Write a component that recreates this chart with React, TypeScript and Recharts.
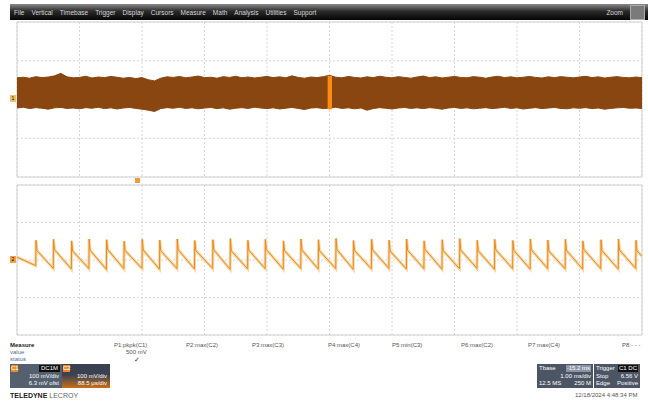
import { ComposedChart, Area, Line, XAxis, YAxis, CartesianGrid, ReferenceArea } from 'recharts';

// grid: 10 horizontal divisions, 8 vertical divisions per trace pane
const xTicks = [0, 1, 2, 3, 4, 5, 6, 7, 8, 9, 10];
const yTicks = [-4, -3, -2, -1, 0, 1, 2, 3, 4];

// C1: noisy band, envelope read every 0.1 div
const c1Top = [
  1.12, 1.15, 1.10, 1.18, 1.13, 1.16, 1.22, 1.35, 1.17, 1.12,
  1.14, 1.20, 1.11, 1.16, 1.13, 1.19, 1.15, 1.10, 1.14, 1.08,
  1.13, 1.02, 0.96, 1.10, 1.17, 1.14, 1.19, 1.12, 1.16, 1.21,
  1.13, 1.15, 1.10, 1.18, 1.14, 1.20, 1.12, 1.16, 1.11, 1.15,
  1.19, 1.13, 1.17, 1.12, 1.22, 1.14, 1.10, 1.16, 1.13, 1.18,
  1.25, 1.15, 1.12, 1.19, 1.14, 1.11, 1.17, 1.13, 1.20, 1.15,
  1.12, 1.18, 1.14, 1.10, 1.16, 1.21, 1.13, 1.17, 1.11, 1.15,
  1.19, 1.14, 1.12, 1.18, 1.15, 1.10, 1.16, 1.20, 1.13, 1.17,
  1.12, 1.15, 1.19, 1.14, 1.11, 1.17, 1.13, 1.18, 1.15, 1.12,
  1.16, 1.20, 1.13, 1.17, 1.11, 1.15, 1.18, 1.14, 1.12, 1.16,
  1.13,
];
const c1Bottom = [
  -0.44, -0.40, -0.47, -0.42, -0.45, -0.50, -0.43, -0.41, -0.46, -0.44,
  -0.48, -0.42, -0.45, -0.40, -0.47, -0.43, -0.49, -0.44, -0.41, -0.46,
  -0.50, -0.55, -0.62, -0.47, -0.42, -0.45, -0.40, -0.46, -0.43, -0.48,
  -0.44, -0.41, -0.47, -0.43, -0.50, -0.45, -0.42, -0.46, -0.40, -0.44,
  -0.47, -0.43, -0.49, -0.45, -0.41, -0.46, -0.52, -0.44, -0.42, -0.47,
  -0.45, -0.40, -0.46, -0.43, -0.48, -0.44, -0.55, -0.47, -0.42, -0.45,
  -0.49, -0.44, -0.41, -0.46, -0.43, -0.47, -0.42, -0.45, -0.50, -0.44,
  -0.41, -0.46, -0.43, -0.48, -0.45, -0.42, -0.47, -0.44, -0.40, -0.46,
  -0.43, -0.49, -0.45, -0.42, -0.47, -0.44, -0.41, -0.46, -0.48, -0.43,
  -0.45, -0.42, -0.47, -0.44, -0.50, -0.46, -0.43, -0.41, -0.45, -0.44,
  -0.46,
];
// bright burst in the middle of C1
const burstX = [4.97, 5.04];
const burstTop = [1.2, 1.2];
const burstBottom = [-0.48, -0.48];

// C2: sawtooth, one spike per cycle
const c2Spikes = [
  0.30, 0.58, 0.87, 1.15, 1.43, 1.71, 2.00, 2.28, 2.56, 2.84,
  3.13, 3.41, 3.69, 3.97, 4.26, 4.54, 4.82, 5.10, 5.38, 5.67,
  5.95, 6.23, 6.51, 6.80, 7.08, 7.36, 7.64, 7.93, 8.21, 8.49,
  8.77, 9.05, 9.34, 9.62, 9.90,
];
const c2Peaks = [
  1.05, 1.10, 1.02, 1.12, 1.08, 1.00, 1.10, 1.06, 1.12, 1.04,
  1.08, 1.14, 1.05, 1.10, 1.02, 1.12, 1.08, 1.15, 1.04, 1.10,
  1.06, 1.12, 1.02, 1.08, 1.14, 1.05, 1.10, 1.04, 1.12, 1.06,
  1.10, 1.02, 1.08, 1.12, 1.05,
];
const c2Knees = [
  0.50, 0.55, 0.48, 0.52, 0.56, 0.50, 0.53, 0.49, 0.55, 0.51,
  0.54, 0.48, 0.52, 0.56, 0.50, 0.53, 0.49, 0.55, 0.51, 0.54,
  0.48, 0.52, 0.56, 0.50, 0.53, 0.49, 0.55, 0.51, 0.54, 0.48,
  0.52, 0.56, 0.50, 0.53, 0.49,
];
const c2Troughs = [
  -0.30, -0.45, -0.48, -0.46, -0.50, -0.47, -0.45, -0.49, -0.46, -0.48,
  -0.45, -0.50, -0.47, -0.46, -0.49, -0.45, -0.48, -0.46, -0.50, -0.47,
  -0.45, -0.48, -0.46, -0.49, -0.47, -0.45, -0.50, -0.46, -0.48, -0.45,
  -0.47, -0.49, -0.46, -0.48, -0.45,
];
const c2Start = 0.15;
const c2End = 0.2;

const menuItems = ['File', 'Vertical', 'Timebase', 'Trigger', 'Display', 'Cursors', 'Measure', 'Math', 'Analysis', 'Utilities', 'Support'];
const measureLabels = ['P1:pkpk(C1)', 'P2:max(C2)', 'P3:max(C3)', 'P4:max(C4)', 'P5:min(C3)', 'P6:max(C2)', 'P7:max(C4)', 'P8:- - -'];
const measureLeft = [114, 186, 252, 328, 392, 461, 528, 622];

const c1Rows = c1Top.map((hi, i) => ({ x: i / 10, band: [c1Bottom[i], hi] }));
const burstRows = burstX.map((x, i) => ({ x, band: [burstBottom[i], burstTop[i]] }));

const c2Rows: Array<{ x: number; v: number }> = [{ x: 0, v: c2Start }];
c2Spikes.forEach((t, i) => {
  c2Rows.push({ x: t, v: c2Troughs[i] });
  c2Rows.push({ x: t + 0.004, v: c2Peaks[i] });
  c2Rows.push({ x: t + 0.02, v: c2Knees[i] });
});
c2Rows.push({ x: 10, v: c2End });

const GRID = '#d6d6d6';

function Pane({ height, top, children }: { height: number; top: number; children: React.ReactNode }) {
  return (
    <ComposedChart width={648} height={height} margin={{ top, right: 6, bottom: 3, left: 17 }}>
      <XAxis type="number" dataKey="x" domain={[0, 10]} ticks={xTicks} hide allowDataOverflow />
      <YAxis type="number" domain={[-4, 4]} ticks={yTicks} hide allowDataOverflow />
      <CartesianGrid stroke={GRID} strokeDasharray="2 2" />
      <ReferenceArea x1={0} x2={10} y1={-4} y2={4} fill="none" stroke="#d2d2d2" strokeWidth={1} />
      {children}
    </ComposedChart>
  );
}

const box = { position: 'absolute' as const, fontSize: 6, color: '#fff', lineHeight: '7px' };

export default function App() {
  return (
    <div style={{ position: 'fixed', left: 0, top: 0, width: 648, height: 404, background: '#fff', overflow: 'hidden', fontFamily: '"Liberation Sans", Arial, sans-serif' }}>
      {/* menu bar */}
      <div style={{ position: 'absolute', left: 10, top: 4, width: 638, height: 16, background: 'linear-gradient(#8a8a8a, #2a2a2a 45%, #050505)', display: 'flex', alignItems: 'center', gap: 7, paddingLeft: 4, boxSizing: 'border-box' }}>
        {menuItems.map((m) => (
          <span key={m} style={{ color: '#d8d8d8', fontSize: 6.5 }}>{m}</span>
        ))}
        <span style={{ marginLeft: 'auto', color: '#d8d8d8', fontSize: 6.5 }}>Zoom</span>
        <span style={{ width: 13, height: 13, marginRight: 3, background: '#7a7a7a', border: '1px solid #aaa' }} />
      </div>

      <div style={{ position: 'absolute', left: 0, top: 0 }}>
        <Pane height={180} top={22}>
          <Area data={c1Rows} dataKey="band" type="linear" stroke="#8a4610" strokeWidth={1} fill="#8a4610" fillOpacity={1} isAnimationActive={false} dot={false} activeDot={false} />
          <Area data={burstRows} dataKey="band" type="linear" stroke="#ff8a10" strokeWidth={1} fill="#ff8a10" fillOpacity={1} isAnimationActive={false} dot={false} activeDot={false} />
        </Pane>
      </div>
      <div style={{ position: 'absolute', left: 0, top: 180 }}>
        <Pane height={158} top={5}>
          <Line data={c2Rows} dataKey="v" type="linear" stroke="#fad6a4" strokeWidth={3} dot={false} activeDot={false} isAnimationActive={false} />
          <Line data={c2Rows} dataKey="v" type="linear" stroke="#e58b22" strokeWidth={1} dot={false} activeDot={false} isAnimationActive={false} />
        </Pane>
      </div>

      {/* channel and trigger markers */}
      <div style={{ position: 'absolute', left: 10, top: 95, width: 6, height: 7, background: '#e9c46a', fontSize: 5, textAlign: 'center', lineHeight: '7px' }}>1</div>
      <div style={{ position: 'absolute', left: 10, top: 256, width: 6, height: 7, background: '#f2a14a', fontSize: 5, textAlign: 'center', lineHeight: '7px' }}>2</div>
      <div style={{ position: 'absolute', left: 135, top: 178, width: 5, height: 5, background: '#f29a3a' }} />

      {/* measurement table */}
      <div style={{ position: 'absolute', left: 10, top: 342, fontSize: 6, lineHeight: '7px' }}>
        <div style={{ color: '#222', fontWeight: 'bold' }}>Measure</div>
        <div style={{ color: '#4a6d9a' }}>value</div>
        <div style={{ color: '#4a6d9a' }}>status</div>
      </div>
      {measureLabels.map((l, i) => (
        <div key={l} style={{ position: 'absolute', left: measureLeft[i], top: 342, fontSize: 6, color: '#555' }}>{l}</div>
      ))}
      <div style={{ position: 'absolute', left: 126, top: 349, fontSize: 6, color: '#555' }}>500 mV</div>
      <div style={{ position: 'absolute', left: 134, top: 356, fontSize: 7, color: '#333' }}>✓</div>

      {/* channel boxes */}
      <div style={{ ...box, left: 10, top: 364, width: 52, height: 24, background: '#55606e' }}>
        <div style={{ position: 'absolute', left: 1, top: 1, width: 7, height: 7, background: '#f08a24', textAlign: 'center' }}>C1</div>
        <div style={{ position: 'absolute', right: 2, top: 1, background: '#111', padding: '0 2px' }}>DC1M</div>
        <div style={{ position: 'absolute', right: 3, top: 9 }}>100 mV/div</div>
        <div style={{ position: 'absolute', right: 3, top: 16 }}>6.3 mV ofst</div>
      </div>
      <div style={{ ...box, left: 62, top: 364, width: 48, height: 24, background: 'linear-gradient(#3b4150 45%, #c96f16)' }}>
        <div style={{ position: 'absolute', left: 1, top: 1, width: 7, height: 7, background: '#f08a24', textAlign: 'center' }}>C2</div>
        <div style={{ position: 'absolute', right: 3, top: 9 }}>100 mV/div</div>
        <div style={{ position: 'absolute', right: 3, top: 16 }}>88.5 µs/div</div>
      </div>
      <div style={{ position: 'absolute', left: 10, top: 392, fontSize: 7, color: '#222' }}>
        <b>TELEDYNE</b> <span style={{ color: '#666' }}>LECROY</span>
      </div>

      {/* timebase / trigger boxes */}
      <div style={{ ...box, left: 537, top: 364, width: 56, height: 24, background: '#4c5564' }}>
        <div style={{ position: 'absolute', left: 2, top: 1 }}>Tbase</div>
        <div style={{ position: 'absolute', right: 2, top: 1, background: '#8a94a4', padding: '0 1px' }}>-15.2 ms</div>
        <div style={{ position: 'absolute', right: 2, top: 9 }}>1.00 ms/div</div>
        <div style={{ position: 'absolute', left: 2, top: 16 }}>12.5 MS</div>
        <div style={{ position: 'absolute', right: 2, top: 16 }}>250 M</div>
      </div>
      <div style={{ ...box, left: 594, top: 364, width: 46, height: 24, background: '#4c5564' }}>
        <div style={{ position: 'absolute', left: 2, top: 1 }}>Trigger</div>
        <div style={{ position: 'absolute', right: 2, top: 1, background: '#111', padding: '0 1px' }}>C1 DC</div>
        <div style={{ position: 'absolute', left: 2, top: 9 }}>Stop</div>
        <div style={{ position: 'absolute', right: 2, top: 9 }}>6.56 V</div>
        <div style={{ position: 'absolute', left: 2, top: 16 }}>Edge</div>
        <div style={{ position: 'absolute', right: 2, top: 16 }}>Positive</div>
      </div>
      <div style={{ position: 'absolute', left: 575, top: 392, fontSize: 6, color: '#555' }}>12/18/2024 4:48:34 PM</div>
    </div>
  );
}
